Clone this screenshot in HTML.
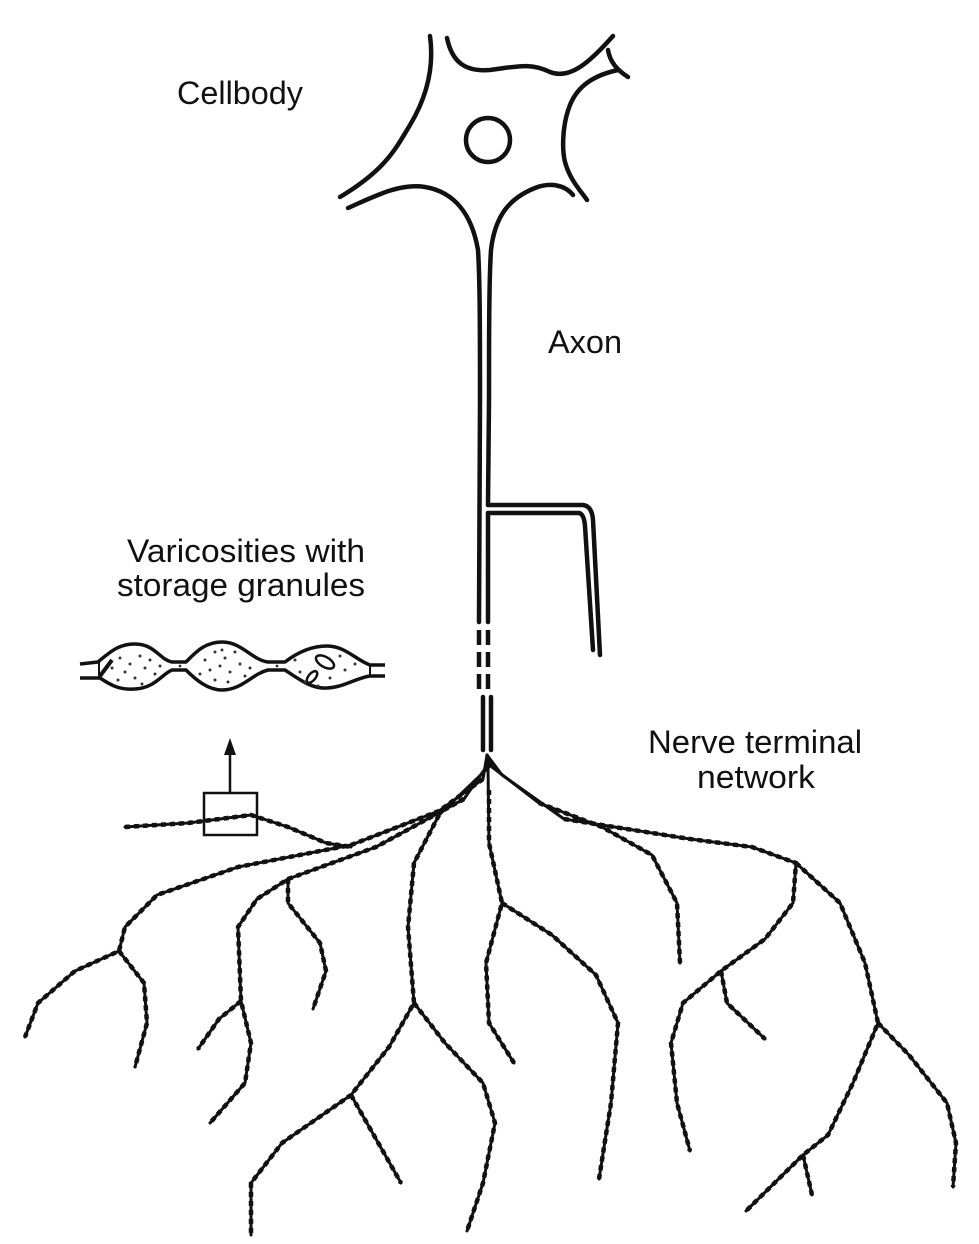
<!DOCTYPE html>
<html><head><meta charset="utf-8"><style>
html,body{margin:0;padding:0;background:#fff;}
svg{display:block;}
text{font-family:"Liberation Sans",Arial,sans-serif;font-size:32px;fill:#111;}
</style></head><body>
<svg width="979" height="1244" viewBox="0 0 979 1244" xmlns="http://www.w3.org/2000/svg">
<rect width="979" height="1244" fill="#fff"/>
<text x="177" y="104" textLength="126" lengthAdjust="spacingAndGlyphs">Cellbody</text>
<text x="548" y="353" textLength="74" lengthAdjust="spacingAndGlyphs">Axon</text>
<text x="127" y="562" textLength="238" lengthAdjust="spacingAndGlyphs">Varicosities with</text>
<text x="117" y="596" textLength="248" lengthAdjust="spacingAndGlyphs">storage granules</text>
<text x="648" y="753" textLength="214" lengthAdjust="spacingAndGlyphs">Nerve terminal</text>
<text x="697" y="788" textLength="118" lengthAdjust="spacingAndGlyphs">network</text>

<g fill="none" stroke="#111" stroke-width="4.5" stroke-linecap="round" stroke-linejoin="round">
<!-- cell body -->
<path d="M430,36 C434,65 428,95 410,125 C395,150 385,170 340,197"/>
<path d="M348,208 C375,196 400,183 425,187 C455,192 472,215 478,250 C480,280 480,340 480,400 L479,622"/>
<path d="M447,38 C452,62 465,72 490,70 C515,67 530,62 550,72 C570,80 590,62 613,36"/>
<path d="M608,50 C610,62 617,70 628,77"/>
<path d="M618,70 C595,75 578,85 570,105 C562,125 562,150 565,162 C570,180 580,190 587,200"/>
<path d="M573,195 C565,185 550,182 535,188 C510,198 495,215 491,250 C489,280 489,340 489,400 L488,505"/>
<circle cx="488" cy="140" r="22"/>
<!-- axon -->
<path d="M488,513 L488,622"/>
<path d="M488,505 L583,505 Q592,506 593,520 L600,655"/>
<path d="M488,513 L579,513 Q584,514 585,526 L593,650"/>
<path d="M479,630 L479,690 M488,630 L488,690" stroke-dasharray="15 7" stroke-linecap="butt"/>
<path d="M483,697 L483,750 M491,697 L491,750"/>
</g>

<!-- varicosities -->
<g fill="none" stroke="#111" stroke-width="3.5" stroke-linejoin="round">
<path d="M80,664 L98,662 C112,650 120,644 135,644 C155,644 160,660 172,662 L186,662 C196,652 205,642 222,642 C242,642 252,660 268,662 L285,662 C298,652 312,646 327,646 C345,646 356,660 370,665 L385,665"/>
<path d="M80,678 L100,678 C112,686 120,690 135,689 C155,688 162,674 172,670 L186,670 C196,680 208,690 222,690 C242,690 252,674 268,670 L285,670 C300,680 312,689 327,688 C345,687 356,678 370,676 L385,676"/>
<path d="M99,662 L99,678 M370,665 L370,676" stroke-width="2"/>
<path d="M100,676 L112,660" stroke-width="4"/>
<ellipse cx="325" cy="662" rx="10" ry="5" transform="rotate(30 325 662)" stroke-width="2.5"/>
<ellipse cx="312" cy="677" rx="7" ry="3.5" transform="rotate(-50 312 677)" stroke-width="2.5"/>
</g>
<g fill="#333">
<circle cx="120" cy="658" r="1.5"/><circle cx="130" cy="664" r="1.5"/><circle cx="140" cy="656" r="1.5"/><circle cx="125" cy="672" r="1.5"/><circle cx="145" cy="668" r="1.5"/><circle cx="135" cy="678" r="1.5"/><circle cx="150" cy="660" r="1.5"/><circle cx="118" cy="680" r="1.5"/><circle cx="155" cy="674" r="1.5"/><circle cx="142" cy="684" r="1.5"/><circle cx="112" cy="668" r="1.5"/><circle cx="160" cy="666" r="1.5"/>
<circle cx="205" cy="660" r="1.5"/><circle cx="215" cy="652" r="1.5"/><circle cx="225" cy="658" r="1.5"/><circle cx="235" cy="652" r="1.5"/><circle cx="210" cy="670" r="1.5"/><circle cx="220" cy="666" r="1.5"/><circle cx="230" cy="672" r="1.5"/><circle cx="240" cy="664" r="1.5"/><circle cx="215" cy="680" r="1.5"/><circle cx="228" cy="682" r="1.5"/><circle cx="245" cy="676" r="1.5"/><circle cx="200" cy="674" r="1.5"/><circle cx="222" cy="650" r="1.5"/><circle cx="250" cy="668" r="1.5"/>
<circle cx="180" cy="666" r="1.4"/><circle cx="277" cy="666" r="1.4"/><circle cx="295" cy="660" r="1.5"/><circle cx="300" cy="672" r="1.5"/><circle cx="340" cy="656" r="1.5"/><circle cx="345" cy="670" r="1.5"/><circle cx="330" cy="678" r="1.5"/><circle cx="318" cy="686" r="1.5"/><circle cx="355" cy="664" r="1.5"/><circle cx="305" cy="682" r="1.5"/>
</g>

<!-- box & arrow -->
<rect x="204" y="793" width="53" height="42" fill="none" stroke="#111" stroke-width="2.5"/>
<line x1="230" y1="793" x2="230" y2="752" stroke="#111" stroke-width="2.5"/>
<polygon points="230,738 224,755 236,755" fill="#111"/>

<!-- terminal network -->
<g fill="none" stroke="#111" stroke-width="3" stroke-linecap="round" stroke-linejoin="round">
<polyline points="487,755 483,779 439,811 351,845 238,867 157,895 125,927 119,951 75,971 38,1003 25,1037"/>
<polyline points="119,951 144,983 147,1023 135,1067"/>
<polyline points="125,827 188,823 251,815 288,827 326,843 351,847"/>
<polyline points="487,755 489,763 464,799 376,847 288,879 257,899 238,927 241,1001 251,1043 245,1083 210,1123"/>
<polyline points="241,1001 219,1019 198,1049"/>
<polyline points="288,879 288,903 320,943 326,971 313,1009"/>
<polyline points="487,755 489,767 439,815 414,863 408,927 414,1003 389,1047 351,1095 282,1143 251,1183 251,1235"/>
<polyline points="351,1095 376,1139 401,1183"/>
<polyline points="414,1003 445,1043 483,1083 495,1123 483,1183 467,1231"/>
<polyline points="487,755 488,767 489,843 502,903 486,963 489,1023 514,1063"/>
<polyline points="502,903 552,935 596,975 618,1023 611,1103 599,1179"/>
<polyline points="487,755 492,767 539,803 602,827 652,855 677,903 680,963"/>
<polyline points="487,755 502,775 564,819 690,839 752,847 796,863 793,903 765,939 721,971 683,1003 671,1043 677,1103 690,1151"/>
<polyline points="721,971 727,1003 765,1039"/>
<polyline points="796,863 840,903 865,963 878,1023 853,1083 828,1135 803,1155 746,1211"/>
<polyline points="803,1155 812,1195"/>
<polyline points="878,1023 909,1055 947,1103 956,1143 953,1187"/>
</g>
<g fill="none" stroke="#111" stroke-width="4.5" stroke-dasharray="5 4" stroke-linejoin="round">
<polyline points="483,779 439,811 351,845 238,867 157,895 125,927 119,951 75,971 38,1003 25,1037"/>
<polyline points="119,951 144,983 147,1023 135,1067"/>
<polyline points="125,827 188,823 251,815 288,827 326,843 351,847"/>
<polyline points="464,799 376,847 288,879 257,899 238,927 241,1001 251,1043 245,1083 210,1123"/>
<polyline points="241,1001 219,1019 198,1049"/>
<polyline points="288,879 288,903 320,943 326,971 313,1009"/>
<polyline points="439,815 414,863 408,927 414,1003 389,1047 351,1095 282,1143 251,1183 251,1235"/>
<polyline points="351,1095 376,1139 401,1183"/>
<polyline points="414,1003 445,1043 483,1083 495,1123 483,1183 467,1231"/>
<polyline points="489,790 489,843 502,903 486,963 489,1023 514,1063"/>
<polyline points="502,903 552,935 596,975 618,1023 611,1103 599,1179"/>
<polyline points="539,803 602,827 652,855 677,903 680,963"/>
<polyline points="564,819 690,839 752,847 796,863 793,903 765,939 721,971 683,1003 671,1043 677,1103 690,1151"/>
<polyline points="721,971 727,1003 765,1039"/>
<polyline points="796,863 840,903 865,963 878,1023 853,1083 828,1135 803,1155 746,1211"/>
<polyline points="803,1155 812,1195"/>
<polyline points="878,1023 909,1055 947,1103 956,1143 953,1187"/>
</g>
</svg>
</body></html>
